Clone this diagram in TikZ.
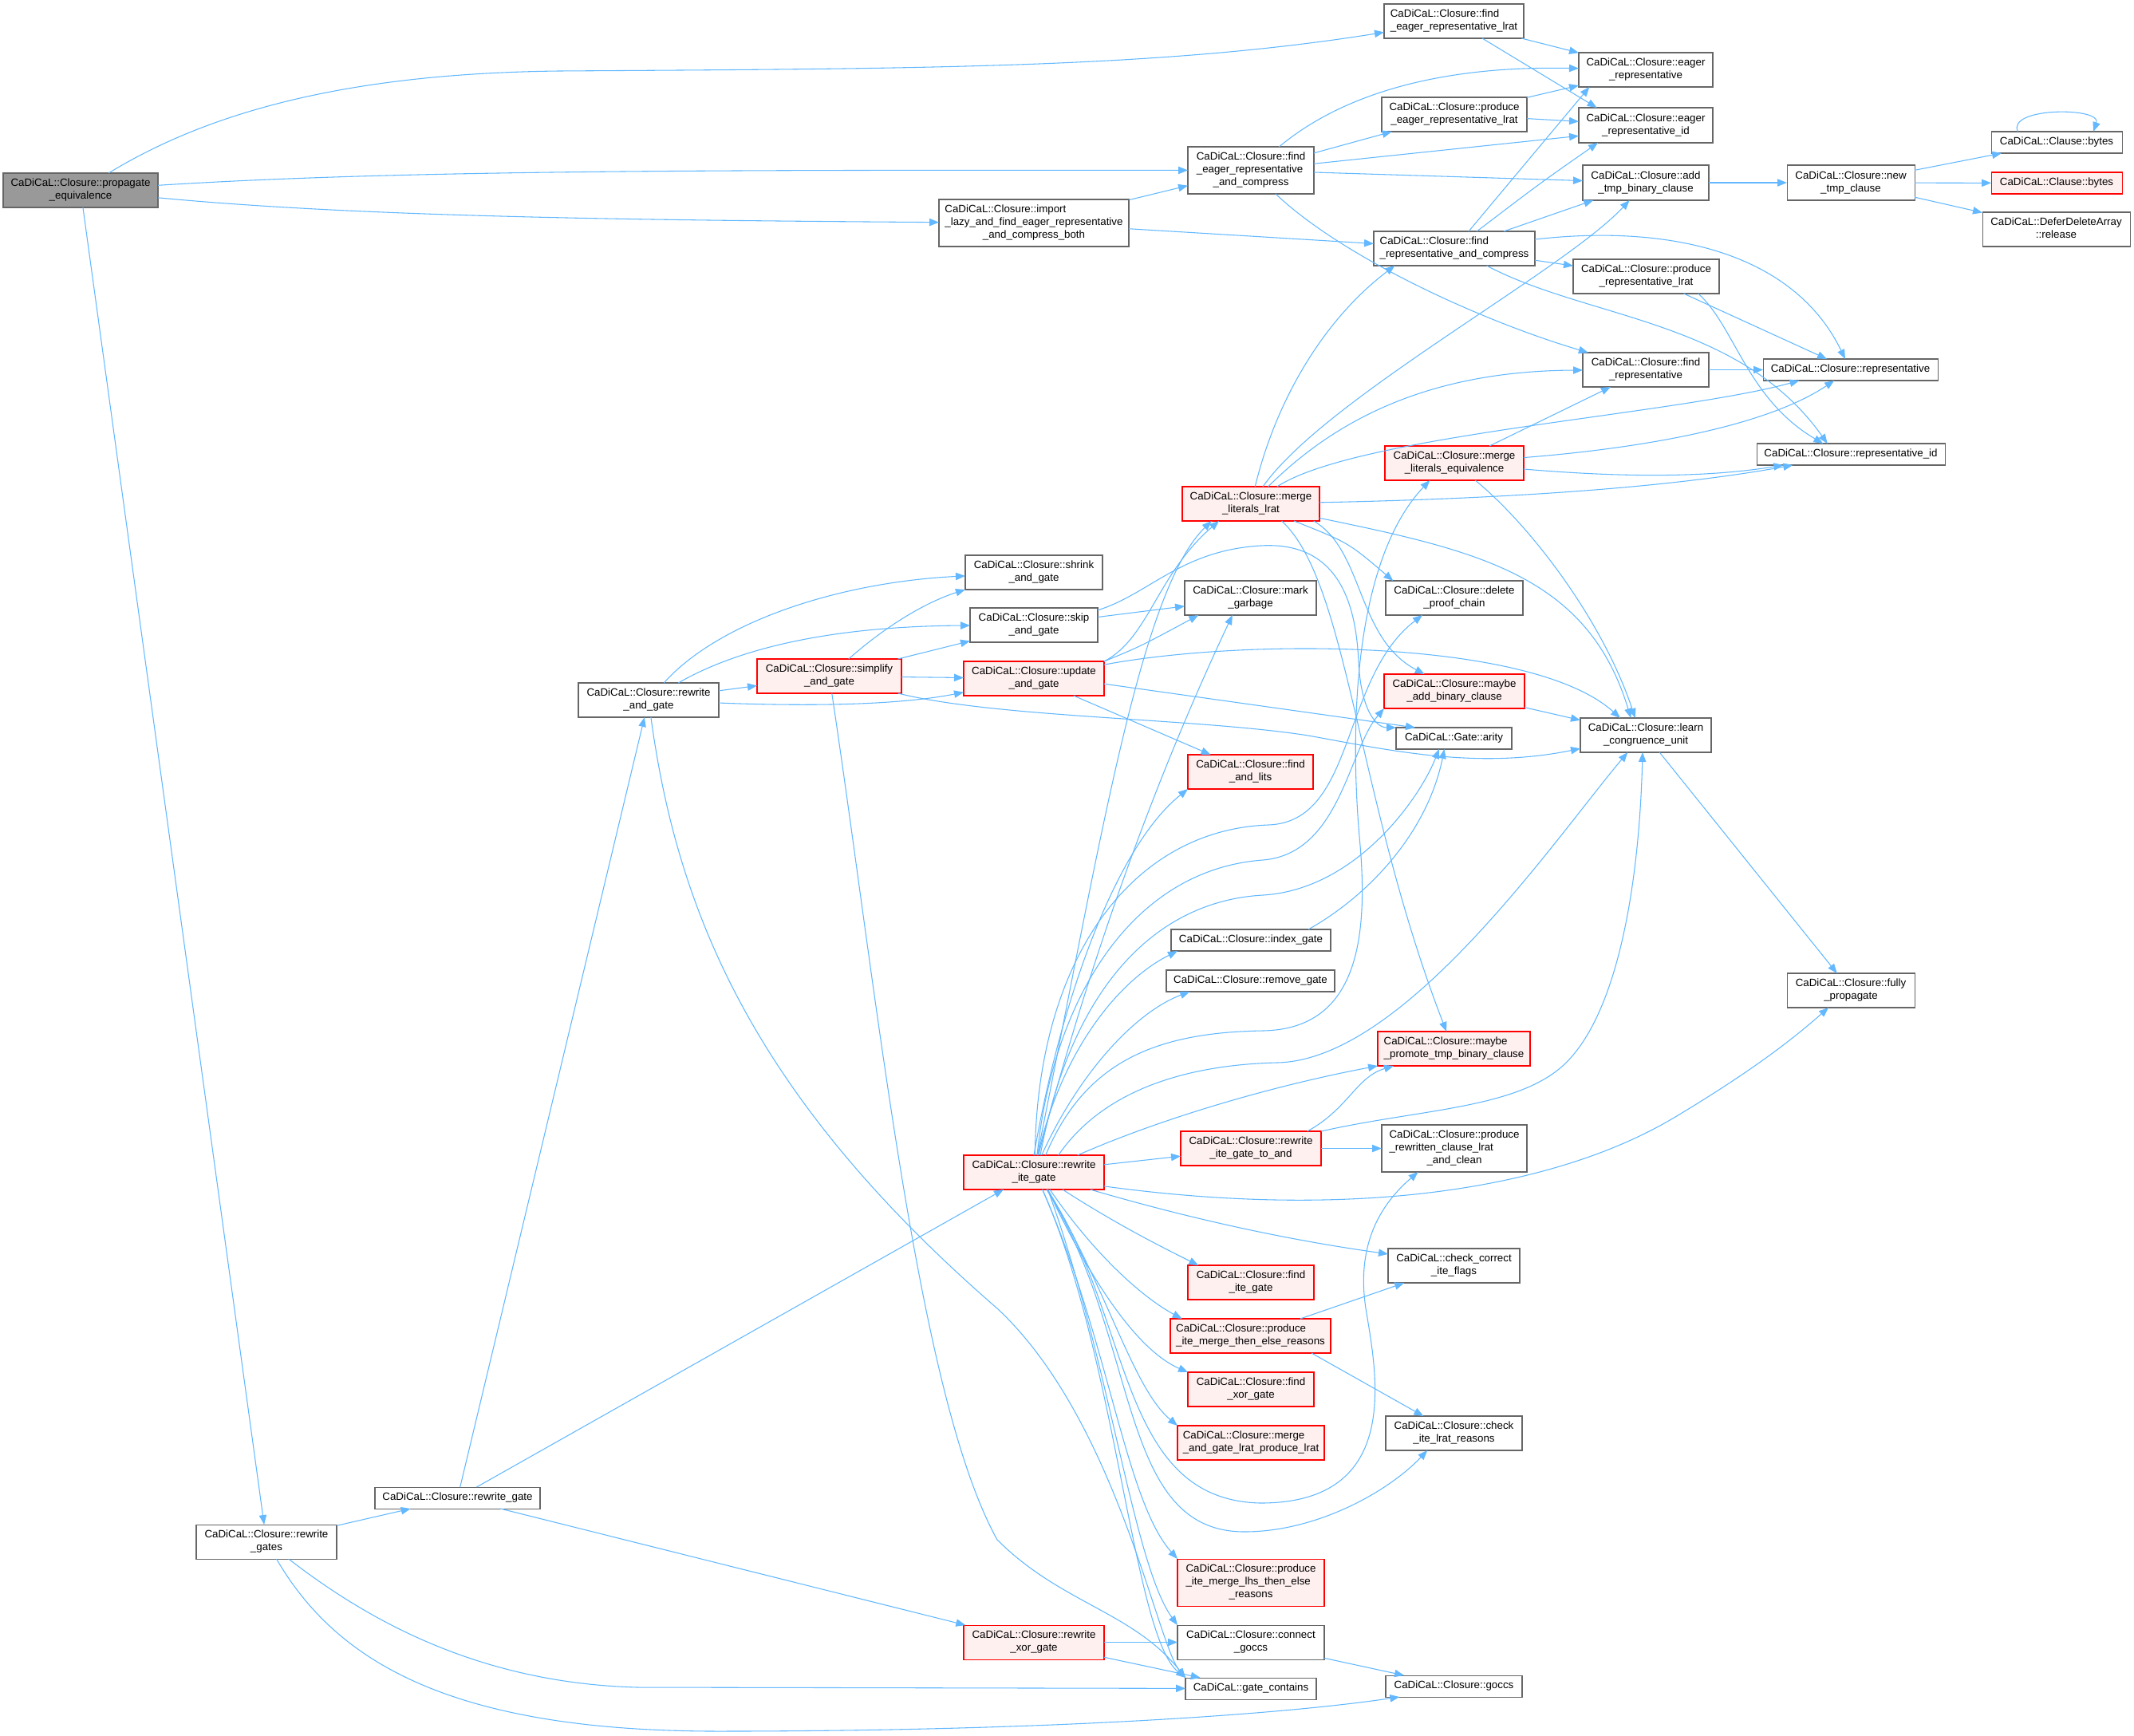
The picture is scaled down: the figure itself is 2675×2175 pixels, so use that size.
\documentclass[tikz,border=0pt]{standalone}
\usepackage{fontspec}
\setmainfont{Liberation Sans}
\usetikzlibrary{arrows.meta}
\definecolor{edgec}{HTML}{63B8FF}
\definecolor{grayb}{HTML}{666666}
\definecolor{redfill}{HTML}{FFF0F0}
\definecolor{rootfill}{HTML}{999999}
\newcommand{\glab}[2]{\begin{tabular}{@{}l@{}}#1\\\multicolumn{1}{@{}c@{}}{#2}\end{tabular}}
\newcommand{\gnode}[7][]{\node[gbox,#1,minimum width={(#5-#3)*0.75pt},minimum height={(#6-#4)*0.75pt}] (#2) at ({(#3+#5)/2},{(#4+#6)/2}) {#7};}
\tikzset{
 gbox/.style={draw=grayb, line width=0.8pt, fill=white, inner sep=0pt, outer sep=0pt, font=\fontsize{10}{12}\selectfont},
 rbox/.style={draw=red, fill=redfill},
 root/.style={fill=rootfill},
 edg/.style={draw=edgec, line width=0.8pt, -{Triangle[length=9pt,width=7pt]}},
}
\begin{document}
\begin{tikzpicture}[x=0.75pt,y=-0.75pt]
\useasboundingbox (0,0) rectangle (2675,2175);
% nodes
\gnode[root]{P}{4}{217}{198}{260}{\glab{CaDiCaL::Closure::propagate}{\_equivalence}}
\gnode{FERL}{1735}{5}{1910}{48}{\glab{CaDiCaL::Closure::find}{\_eager\_representative\_lrat}}
\gnode{ER}{1979}{66}{2147}{109}{\glab{CaDiCaL::Closure::eager}{\_representative}}
\gnode{ERID}{1979}{135}{2147}{179}{\glab{CaDiCaL::Closure::eager}{\_representative\_id}}
\gnode{PERL}{1732}{122}{1914}{165}{\glab{CaDiCaL::Closure::produce}{\_eager\_representative\_lrat}}
\gnode{FERC}{1489}{184}{1647}{243}{\glab{CaDiCaL::Closure::find\\\_eager\_representative}{\_and\_compress}}
\gnode{IMP}{1177}{250}{1415}{309}{\glab{CaDiCaL::Closure::import\\\_lazy\_and\_find\_eager\_representative}{\_and\_compress\_both}}
\gnode{ATBC}{1984}{207}{2142}{251}{\glab{CaDiCaL::Closure::add}{\_tmp\_binary\_clause}}
\gnode{NTC}{2240}{207}{2400}{251}{\glab{CaDiCaL::Closure::new}{\_tmp\_clause}}
\gnode{CB1}{2496}{165}{2660}{192}{CaDiCaL::Clause::bytes}
\gnode[rbox]{CB2}{2496}{216}{2660}{243}{CaDiCaL::Clause::bytes}
\gnode{DDA}{2485}{266}{2670}{309}{\glab{CaDiCaL::DeferDeleteArray}{::release}}
\gnode{FRC}{1722}{290}{1924}{333}{\glab{CaDiCaL::Closure::find}{\_representative\_and\_compress}}
\gnode{PRL}{1972}{325}{2155}{368}{\glab{CaDiCaL::Closure::produce}{\_representative\_lrat}}
\gnode{FR}{1984}{442}{2142}{485}{\glab{CaDiCaL::Closure::find}{\_representative}}
\gnode{REP}{2210}{450}{2429}{477}{CaDiCaL::Closure::representative}
\gnode{REPID}{2202}{556}{2438}{583}{CaDiCaL::Closure::representative\_id}
\gnode[rbox]{MLE}{1736}{559}{1910}{602}{\glab{CaDiCaL::Closure::merge}{\_literals\_equivalence}}
\gnode[rbox]{MLL}{1482}{610}{1654}{653}{\glab{CaDiCaL::Closure::merge}{\_literals\_lrat}}
\gnode{SHR}{1210}{696}{1382}{739}{\glab{CaDiCaL::Closure::shrink}{\_and\_gate}}
\gnode{SKIP}{1216}{762}{1376}{805}{\glab{CaDiCaL::Closure::skip}{\_and\_gate}}
\gnode[rbox]{SIMP}{949}{826}{1130}{869}{\glab{CaDiCaL::Closure::simplify}{\_and\_gate}}
\gnode[rbox]{UPD}{1208}{829}{1384}{872}{\glab{CaDiCaL::Closure::update}{\_and\_gate}}
\gnode{MG}{1485}{728}{1650}{771}{\glab{CaDiCaL::Closure::mark}{\_garbage}}
\gnode{DPC}{1737}{728}{1909}{771}{\glab{CaDiCaL::Closure::delete}{\_proof\_chain}}
\gnode[rbox]{MABC}{1735}{845}{1911}{888}{\glab{CaDiCaL::Closure::maybe}{\_add\_binary\_clause}}
\gnode{GA}{1750}{912}{1895}{939}{CaDiCaL::Gate::arity}
\gnode{LCU}{1981}{900}{2145}{943}{\glab{CaDiCaL::Closure::learn}{\_congruence\_unit}}
\gnode{RAG}{725}{856}{901}{899}{\glab{CaDiCaL::Closure::rewrite}{\_and\_gate}}
\gnode[rbox]{FAL}{1489}{946}{1646}{989}{\glab{CaDiCaL::Closure::find}{\_and\_lits}}
\gnode{IG}{1468}{1165}{1668}{1192}{CaDiCaL::Closure::index\_gate}
\gnode{RMG}{1462}{1216}{1673}{1243}{CaDiCaL::Closure::remove\_gate}
\gnode{FP}{2240}{1220}{2400}{1263}{\glab{CaDiCaL::Closure::fully}{\_propagate}}
\gnode[rbox]{MPT}{1727}{1293}{1918}{1336}{\glab{CaDiCaL::Closure::maybe}{\_promote\_tmp\_binary\_clause}}
\gnode[rbox]{RITA}{1480}{1418}{1656}{1461}{\glab{CaDiCaL::Closure::rewrite}{\_ite\_gate\_to\_and}}
\gnode{PRCL}{1732}{1410}{1914}{1469}{\glab{CaDiCaL::Closure::produce\\\_rewritten\_clause\_lrat}{\_and\_clean}}
\gnode[rbox]{RIG}{1208}{1448}{1384}{1491}{\glab{CaDiCaL::Closure::rewrite}{\_ite\_gate}}
\gnode{CCIF}{1740}{1565}{1905}{1608}{\glab{CaDiCaL::check\_correct}{\_ite\_flags}}
\gnode[rbox]{FIG}{1489}{1586}{1647}{1629}{\glab{CaDiCaL::Closure::find}{\_ite\_gate}}
\gnode[rbox]{PIMTER}{1467}{1653}{1668}{1696}{\glab{CaDiCaL::Closure::produce}{\_ite\_merge\_then\_else\_reasons}}
\gnode[rbox]{FXG}{1489}{1720}{1647}{1763}{\glab{CaDiCaL::Closure::find}{\_xor\_gate}}
\gnode{CILR}{1737}{1775}{1908}{1818}{\glab{CaDiCaL::Closure::check}{\_ite\_lrat\_reasons}}
\gnode[rbox]{MAGL}{1476}{1787}{1660}{1830}{\glab{CaDiCaL::Closure::merge}{\_and\_gate\_lrat\_produce\_lrat}}
\gnode[rbox]{PIMLTER}{1476}{1954}{1660}{2013}{\glab{CaDiCaL::Closure::produce\\\_ite\_merge\_lhs\_then\_else}{\_reasons}}
\gnode{CG}{1476}{2037}{1660}{2080}{\glab{CaDiCaL::Closure::connect}{\_goccs}}
\gnode[rbox]{RXG}{1208}{2037}{1384}{2080}{\glab{CaDiCaL::Closure::rewrite}{\_xor\_gate}}
\gnode{GC}{1486}{2103}{1650}{2130}{CaDiCaL::gate\_contains}
\gnode{GO}{1737}{2100}{1908}{2127}{CaDiCaL::Closure::goccs}
\gnode{RGS}{246}{1911}{422}{1954}{\glab{CaDiCaL::Closure::rewrite}{\_gates}}
\gnode{RG}{470}{1864}{677}{1891}{CaDiCaL::Closure::rewrite\_gate}
% edges: propagate
\draw[edg] (P) .. controls (270,135) and (450,92) .. (700,89) .. controls (1150,86) and (1450,86) .. (FERL);
\draw[edg] (P) .. controls (500,213) and (900,213) .. (FERC);
\draw[edg] (P) .. controls (450,272) and (800,276) .. (IMP);
\draw[edg] (P) -- (RGS);
% top right cluster
\draw[edg] (FERL) -- (ER);
\draw[edg] (FERL) -- ([xshift=17pt]ERID.north west);
\draw[edg] (FERC) .. controls (1680,120) and (1800,82) .. (ER);
\draw[edg] (FERC) -- (PERL);
\draw[edg] (FERC) -- ([yshift=-10pt]ERID.west);
\draw[edg] (FERC) -- (ATBC);
\draw[edg] (FERC) .. controls (1680,320) and (1850,400) .. (FR);
\draw[edg] (IMP) -- (FERC);
\draw[edg] (IMP) -- (FRC);
\draw[edg] (PERL) -- (ER);
\draw[edg] (PERL) -- (ERID);
\draw[edg] (FRC) -- ([xshift=10pt]ER.south west);
\draw[edg] (FRC) .. controls (1930,230) .. ([xshift=18pt]ERID.south west);
\draw[edg] (FRC) -- ([xshift=10pt]ATBC.south west);
\draw[edg] (FRC) .. controls (2100,280) and (2250,320) .. (REP);
\draw[edg] (FRC) -- (PRL);
\draw[edg] (FRC) .. controls (1990,400) and (2180,400) .. ([xshift=-22pt]REPID.north);
\draw[edg] (PRL) -- (REP);
\draw[edg] ([xshift=49pt]PRL.south) .. controls (2175,410) and (2190,500) .. ([xshift=-26pt]REPID.north);
\draw[edg] (ATBC) -- (NTC);
\draw[edg] (NTC) -- (CB1);
\draw[edg] (NTC) -- (CB2);
\draw[edg] (NTC) -- (DDA);
\draw[edg] ([xshift=25pt]CB1.north west) .. controls (2515,134) and (2635,134) .. ([xshift=-27pt]CB1.north east);
\draw[edg] (FR) -- (REP);
\draw[edg] (MLE) -- (FR);
\draw[edg] (MLE) .. controls (2080,560) and (2220,530) .. (REP);
\draw[edg] (MLE) .. controls (2050,600) and (2150,597) .. ([xshift=25pt]REPID.south west);
\draw[edg] (MLE) .. controls (1920,660) and (2010,780) .. ([xshift=-10pt]LCU.north);
% merge_literals_lrat
\draw[edg] (MLL) .. controls (1600,500) and (1660,400) .. ([xshift=-56pt]FRC.south);
\draw[edg] (MLL) .. controls (1660,500) and (1960,340) .. (ATBC);
\draw[edg] (MLL) .. controls (1680,520) and (1800,465) .. (FR);
\draw[edg] (MLL) .. controls (1700,545) and (2100,520) .. ([xshift=-48pt]REP.south);
\draw[edg] (MLL) .. controls (1900,625) and (2100,610) .. ([xshift=34pt]REPID.south west);
\draw[edg] (MLL) .. controls (1850,690) and (1990,720) .. ([xshift=-14pt]LCU.north);
\draw[edg] (MLL) .. controls (1690,680) .. ([xshift=7pt]DPC.north west);
\draw[edg] ([xshift=59pt]MLL.south) .. controls (1710,690) and (1700,800) .. ([xshift=-28pt]MABC.north);
\draw[edg] ([xshift=29pt]MLL.south) .. controls (1690,730) and (1700,1000) .. ([xshift=-7pt]MPT.north);
% and-gate family
\draw[edg] ([yshift=14pt]SKIP.east) .. controls (1440,745) and (1480,690) .. (1580,684) .. controls (1680,678) and (1700,760) .. (1703,830) .. controls (1706,890) and (1725,912) .. (GA.north west);
\draw[edg] (SKIP) -- (MG);
\draw[edg] (RAG) .. controls (900,780) and (1050,730) .. (SHR);
\draw[edg] (RAG) .. controls (930,810) and (1050,785) .. (SKIP);
\draw[edg] (RAG) -- (SIMP);
\draw[edg] (RAG) .. controls (1000,885) and (1120,885) .. (UPD);
\draw[edg] (RAG) .. controls (850,1150) and (950,1380) .. (1250,1640) .. controls (1400,1780) and (1450,2060) .. (GC.north west);
\draw[edg] (SIMP) .. controls (1110,785) and (1160,755) .. (SHR.south west);
\draw[edg] (SIMP) -- (SKIP);
\draw[edg] (SIMP) -- (UPD);
\draw[edg] (SIMP) .. controls (1250,900) and (1500,900) .. (1640,922) .. controls (1740,940) and (1850,965) .. (LCU);
\draw[edg] (SIMP) .. controls (1100,1250) and (1150,1750) .. (1250,1930) .. controls (1330,2010) and (1420,2020) .. (GC.north west);
\draw[edg] (UPD.north east) .. controls (1430,810) .. ([xshift=13pt]MG.south west);
\draw[edg] (UPD.north east) .. controls (1440,800) and (1450,720) .. ([xshift=-30pt]MLL.south);
\draw[edg] ([yshift=13pt]UPD.east) .. controls (1560,800) and (1920,800) .. ([xshift=-24pt]LCU.north);
\draw[edg] ([yshift=-5pt]UPD.east) -- ([xshift=18pt]GA.north west);
\draw[edg] (UPD) -- (FAL);
% rewrite gates
\draw[edg] (RGS) -- (RG);
\draw[edg] (RGS) .. controls (460,2030) and (600,2110) .. (800,2115) -- (GC);
\draw[edg] (RGS) .. controls (420,2080) and (560,2170) .. (900,2170) .. controls (1300,2170) and (1600,2150) .. ([xshift=13pt]GO.south west);
\draw[edg] (RG) -- (RAG);
\draw[edg] (RG) -- (RIG);
\draw[edg] (RG) -- (RXG);
\draw[edg] (RXG) -- (CG);
\draw[edg] (RXG) -- (GC);
\draw[edg] (CG) -- (GO);
% rewrite_ite_gate
\draw[edg] (RIG) -- (RITA);
\draw[edg] ([xshift=41pt]RIG.north) .. controls (1460,1400) and (1600,1360) .. (MPT.south west);
\draw[edg] ([xshift=23pt]RIG.north) .. controls (1380,1370) and (1480,1335) .. (1600,1332) .. controls (1760,1330) and (1950,1050) .. ([xshift=-17pt]LCU.south);
\draw[edg] ([yshift=-13pt]RIG.east) .. controls (1700,1530) and (1950,1490) .. (2100,1400) .. controls (2200,1340) and (2250,1300) .. ([xshift=-21pt]FP.south);
\draw[edg] ([xshift=53pt]RIG.south) .. controls (1500,1530) and (1620,1555) .. ([yshift=11pt]CCIF.west);
\draw[edg] ([xshift=27pt]RIG.south) .. controls (1400,1535) and (1460,1565) .. ([xshift=10pt]FIG.north west);
\draw[edg] ([xshift=15pt]RIG.south) .. controls (1370,1570) and (1430,1625) .. ([xshift=11pt]PIMTER.north west);
\draw[edg] ([xshift=13pt]RIG.south) .. controls (1360,1590) and (1420,1690) .. (FXG.north west);
\draw[edg] ([xshift=13pt]RIG.south) .. controls (1390,1620) and (1420,1740) .. (MAGL.north west);
\draw[edg] ([xshift=12pt]RIG.south) .. controls (1420,1650) and (1400,1880) .. (1580,1884) .. controls (1760,1884) and (1725,1720) .. (1712,1640) .. controls (1700,1560) and (1730,1510) .. ([xshift=-34pt]PRCL.south);
\draw[edg] ([xshift=12pt]RIG.south) .. controls (1430,1680) and (1400,1920) .. (1560,1920) .. controls (1650,1920) and (1740,1870) .. ([xshift=-25pt]CILR.south);
\draw[edg] ([xshift=8pt]RIG.south) .. controls (1390,1680) and (1410,1880) .. (PIMLTER.north west);
\draw[edg] ([xshift=13pt]RIG.south) .. controls (1390,1700) and (1420,1960) .. (CG.north west);
\draw[edg] ([xshift=8pt]RIG.south) .. controls (1400,1700) and (1420,2050) .. (GC.north west);
\draw[edg] ([xshift=11pt]RIG.north) .. controls (1360,1330) and (1450,1294) .. (1583,1292) .. controls (1700,1290) and (1715,1180) .. (1705,1060) .. controls (1690,900) and (1700,700) .. ([xshift=-23pt]MLE.south);
\draw[edg] ([xshift=6pt]RIG.north) .. controls (1340,1250) and (1440,1130) .. (1583,1122) .. controls (1700,1115) and (1780,1000) .. ([xshift=-14pt]GA.south);
\draw[edg] ([xshift=3pt]RIG.north) .. controls (1320,1250) and (1420,1090) .. (1583,1078) .. controls (1680,1070) and (1690,940) .. (MABC.south west);
\draw[edg] ([xshift=1pt]RIG.north) .. controls (1300,1200) and (1420,1040) .. (1590,1034) .. controls (1700,1030) and (1680,850) .. ([xshift=-30pt]DPC.south);
\draw[edg] (RIG.north) .. controls (1330,1250) and (1400,1060) .. (FAL.south west);
\draw[edg] (RIG) .. controls (1330,1320) and (1400,1230) .. ([xshift=6pt]IG.south west);
\draw[edg] (RIG) .. controls (1350,1350) and (1420,1270) .. ([xshift=22pt]RMG.south west);
\draw[edg] (RIG) .. controls (1380,1050) and (1430,740) .. ([xshift=-37pt]MLL.south);
\draw[edg] (RIG) .. controls (1380,1150) and (1470,930) .. ([xshift=-17pt]MG.south);
\draw[edg] ([xshift=54pt]IG.north) .. controls (1720,1120) and (1790,1040) .. ([xshift=-9pt]GA.south);
% rewrite_ite_gate_to_and and others
\draw[edg] (RITA) -- (PRCL);
\draw[edg] ([xshift=-13pt]RITA.north east) .. controls (1690,1390) and (1700,1350) .. ([xshift=15pt]MPT.south west);
\draw[edg] (RITA.north east) .. controls (1780,1390) and (1900,1390) .. (1960,1335) .. controls (2030,1270) and (2055,1100) .. ([xshift=-3pt]LCU.south);
\draw[edg] (PIMTER) -- (CCIF);
\draw[edg] ([xshift=-18pt]PIMTER.south east) -- (CILR);
\draw[edg] (MABC) -- (LCU);
\draw[edg] (LCU) -- (FP);
\end{tikzpicture}
\end{document}
